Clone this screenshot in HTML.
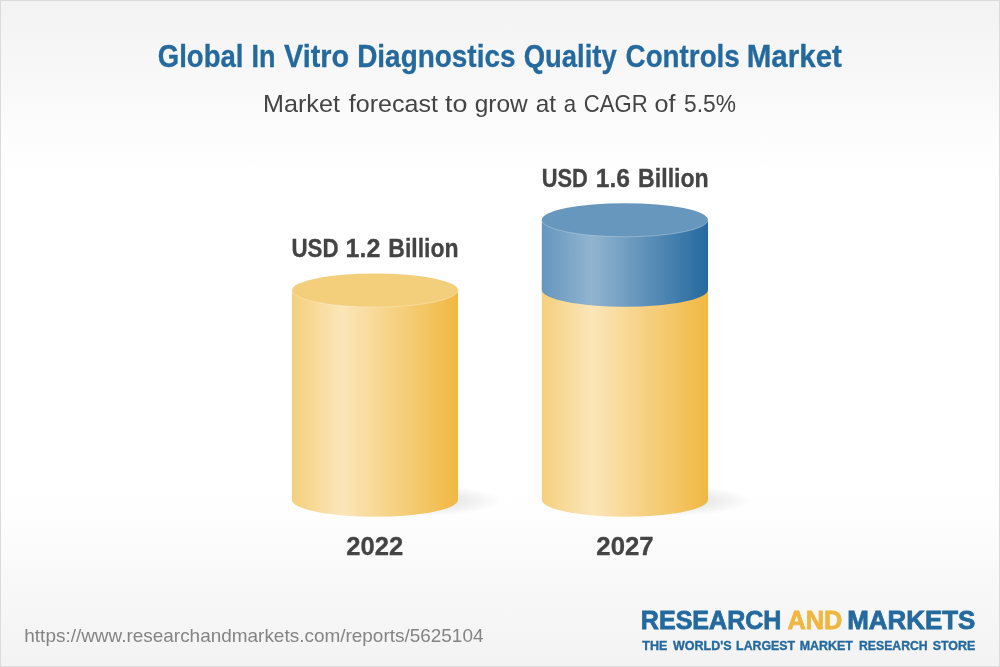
<!DOCTYPE html>
<html lang="en">
<head>
<meta charset="utf-8">
<title>Global In Vitro Diagnostics Quality Controls Market</title>
<style>
html,body{margin:0;padding:0;background:#fff;}
body{width:1000px;height:667px;overflow:hidden;position:relative;font-family:"Liberation Sans",sans-serif;}
#card{position:absolute;left:0;top:0;width:998px;height:665px;border:1px solid #dbdbdb;
background:linear-gradient(to bottom,#f3f3f3 6px,#ffffff 171px,#ffffff 493px,#f3f3f3 658px);}
svg{position:absolute;left:0;top:0;}
text{font-family:"Liberation Sans",sans-serif;}
.b{font-weight:bold;}
</style>
</head>
<body>
<div id="card"></div>
<svg width="1000" height="667" viewBox="0 0 1000 667" xmlns="http://www.w3.org/2000/svg">
<defs>
<linearGradient id="gy" x1="0" y1="0" x2="1" y2="0">
<stop offset="0" stop-color="#f5cf7c"/>
<stop offset="0.3" stop-color="#fbe6b9"/>
<stop offset="1" stop-color="#f0b842"/>
</linearGradient>
<linearGradient id="gb" x1="0" y1="0" x2="1" y2="0">
<stop offset="0" stop-color="#6596be"/>
<stop offset="0.3" stop-color="#91b4d0"/>
<stop offset="1" stop-color="#24699f"/>
</linearGradient>
<radialGradient id="sh" cx="0.5" cy="0.5" r="0.5">
<stop offset="0" stop-color="#000" stop-opacity="0.2"/>
<stop offset="0.5" stop-color="#000" stop-opacity="0.08"/>
<stop offset="1" stop-color="#000" stop-opacity="0"/>
</radialGradient>
</defs>

<!-- shadows -->
<ellipse cx="416" cy="500.5" rx="86" ry="16" fill="url(#sh)"/>
<ellipse cx="666" cy="500.5" rx="86" ry="16" fill="url(#sh)"/>

<!-- cylinder 1 -->
<path d="M292 290.3 L292 499.8 A83 17 0 0 0 458 499.8 L458 290.3 Z" fill="url(#gy)"/>
<ellipse cx="375" cy="290.3" rx="83" ry="16.8" fill="#f4cf7b"/>
<path d="M292 290.3 A83 16.8 0 0 0 458 290.3" fill="none" stroke="#fff" stroke-opacity="0.38" stroke-width="0.7"/>

<!-- cylinder 2 -->
<path d="M541.8 280 L541.8 499.8 A83.1 17 0 0 0 708 499.8 L708 280 Z" fill="url(#gy)"/>
<path d="M541.8 220 L541.8 289.7 A83.1 17 0 0 0 708 289.7 L708 220 Z" fill="url(#gb)"/>
<ellipse cx="624.9" cy="220" rx="83.1" ry="16.8" fill="#6797bd"/>
<path d="M541.8 220 A83.1 16.8 0 0 0 708 220" fill="none" stroke="#fff" stroke-opacity="0.38" stroke-width="0.7"/>

<!-- text -->
<text y="66.8" font-size="31.6" font-weight="bold" stroke-width="0.3"><tspan x="157.79" textLength="85.69" lengthAdjust="spacingAndGlyphs" fill="#246a9f" stroke="#246a9f">Global</tspan> <tspan x="251.46" textLength="23.99" lengthAdjust="spacingAndGlyphs" fill="#246a9f" stroke="#246a9f">In</tspan> <tspan x="283.95" textLength="65.14" lengthAdjust="spacingAndGlyphs" fill="#246a9f" stroke="#246a9f">Vitro</tspan> <tspan x="357.20" textLength="158.28" lengthAdjust="spacingAndGlyphs" fill="#246a9f" stroke="#246a9f">Diagnostics</tspan> <tspan x="523.69" textLength="92.98" lengthAdjust="spacingAndGlyphs" fill="#246a9f" stroke="#246a9f">Quality</tspan> <tspan x="625.58" textLength="114.19" lengthAdjust="spacingAndGlyphs" fill="#246a9f" stroke="#246a9f">Controls</tspan> <tspan x="746.70" textLength="95.29" lengthAdjust="spacingAndGlyphs" fill="#246a9f" stroke="#246a9f">Market</tspan></text>
<text y="111.6" font-size="24.8"><tspan x="263.03" textLength="76.88" lengthAdjust="spacingAndGlyphs" fill="#444444">Market</tspan> <tspan x="348.80" textLength="89.11" lengthAdjust="spacingAndGlyphs" fill="#444444">forecast</tspan> <tspan x="445.00" textLength="22.39" lengthAdjust="spacingAndGlyphs" fill="#444444">to</tspan> <tspan x="474.74" textLength="52.97" lengthAdjust="spacingAndGlyphs" fill="#444444">grow</tspan> <tspan x="535.64" textLength="20.28" lengthAdjust="spacingAndGlyphs" fill="#444444">at</tspan> <tspan x="563.71" textLength="12.35" lengthAdjust="spacingAndGlyphs" fill="#444444">a</tspan> <tspan x="583.86" textLength="63.90" lengthAdjust="spacingAndGlyphs" fill="#444444">CAGR</tspan> <tspan x="654.62" textLength="20.90" lengthAdjust="spacingAndGlyphs" fill="#444444">of</tspan> <tspan x="684.09" textLength="51.89" lengthAdjust="spacingAndGlyphs" fill="#444444">5.5%</tspan></text>
<text y="257" font-size="25" font-weight="bold" stroke-width="0.3"><tspan x="291.50" textLength="47.12" lengthAdjust="spacingAndGlyphs" fill="#444444" stroke="#444444">USD</tspan> <tspan x="345.58" textLength="34.89" lengthAdjust="spacingAndGlyphs" fill="#444444" stroke="#444444">1.2</tspan> <tspan x="388.31" textLength="70.25" lengthAdjust="spacingAndGlyphs" fill="#444444" stroke="#444444">Billion</tspan></text>
<text y="186.5" font-size="25" font-weight="bold" stroke-width="0.3"><tspan x="541.73" textLength="46.08" lengthAdjust="spacingAndGlyphs" fill="#444444" stroke="#444444">USD</tspan> <tspan x="595.71" textLength="34.25" lengthAdjust="spacingAndGlyphs" fill="#444444" stroke="#444444">1.6</tspan> <tspan x="638.10" textLength="70.66" lengthAdjust="spacingAndGlyphs" fill="#444444" stroke="#444444">Billion</tspan></text>
<text y="554.7" font-size="25.4" font-weight="bold" stroke-width="0.3"><tspan x="346.35" textLength="56.94" lengthAdjust="spacingAndGlyphs" fill="#444444" stroke="#444444">2022</tspan></text>
<text y="554.7" font-size="25.4" font-weight="bold" stroke-width="0.3"><tspan x="596.34" textLength="57.35" lengthAdjust="spacingAndGlyphs" fill="#444444" stroke="#444444">2027</tspan></text>
<text y="642" font-size="18.6"><tspan x="24.32" textLength="459.16" lengthAdjust="spacingAndGlyphs" fill="#848484">https://www.researchandmarkets.com/reports/5625104</tspan></text>
<text y="629.4" font-size="26.6" font-weight="bold" stroke-width="0.8"><tspan x="640.83" textLength="140.62" lengthAdjust="spacingAndGlyphs" fill="#246a9f" stroke="#246a9f">RESEARCH</tspan> <tspan x="787.40" textLength="54.87" lengthAdjust="spacingAndGlyphs" fill="#f0b740" stroke="#f0b740">AND</tspan> <tspan x="847.18" textLength="128.10" lengthAdjust="spacingAndGlyphs" fill="#246a9f" stroke="#246a9f">MARKETS</tspan></text>
<text y="649.6" font-size="12.6" font-weight="bold" stroke-width="0.35"><tspan x="642.28" textLength="25.00" lengthAdjust="spacingAndGlyphs" fill="#246a9f" stroke="#246a9f">THE</tspan> <tspan x="672.97" textLength="58.60" lengthAdjust="spacingAndGlyphs" fill="#246a9f" stroke="#246a9f">WORLD'S</tspan> <tspan x="736.09" textLength="59.03" lengthAdjust="spacingAndGlyphs" fill="#246a9f" stroke="#246a9f">LARGEST</tspan> <tspan x="799.68" textLength="53.24" lengthAdjust="spacingAndGlyphs" fill="#246a9f" stroke="#246a9f">MARKET</tspan> <tspan x="859.00" textLength="68.65" lengthAdjust="spacingAndGlyphs" fill="#246a9f" stroke="#246a9f">RESEARCH</tspan> <tspan x="932.63" textLength="42.75" lengthAdjust="spacingAndGlyphs" fill="#246a9f" stroke="#246a9f">STORE</tspan></text>
</svg>
</body>
</html>
